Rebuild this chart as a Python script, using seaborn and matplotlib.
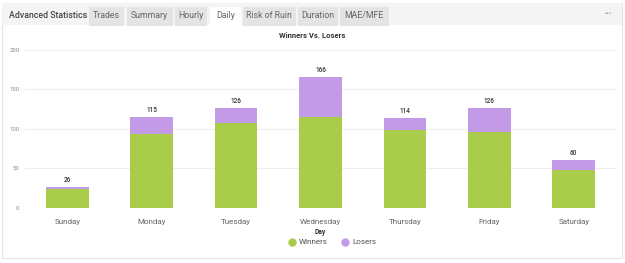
import numpy as np
import pandas as pd
import matplotlib
matplotlib.use("Agg")
import matplotlib.pyplot as plt
from matplotlib.patches import Rectangle
from matplotlib.lines import Line2D
import seaborn as sns

days = ["Sunday", "Monday", "Tuesday", "Wednesday", "Thursday", "Friday", "Saturday"]
winners = [23, 93, 107, 115, 99, 96, 48]
losers = [3, 22, 19, 51, 15, 30, 12]
tabs = ["Trades", "Summary", "Hourly", "Daily", "Risk of Ruin", "Duration", "MAE/MFE"]

green = "#a9cd4b"
purple = "#c39ae6"

df = pd.DataFrame({"Day": days, "Winners": winners, "Losers": losers})
df["Total"] = df["Winners"] + df["Losers"]

sns.set_theme(style="white")
plt.rcParams["font.family"] = ["Roboto", "DejaVu Sans"]

W, H = 625, 263
fig = plt.figure(figsize=(W / 100, H / 100), dpi=100)
fig.patch.set_facecolor("white")


def px(x, y, w, h):
    # pixel box (top-left origin) -> figure fraction rectangle
    return (x / W, 1 - (y + h) / H), w / W, h / H


# card + tab strip
xy, w, h = px(2, 3, 620, 255)
fig.patches.append(Rectangle(xy, w, h, transform=fig.transFigure, facecolor="white",
                             edgecolor="#e4e4e4", lw=0.8, zorder=-3))
xy, w, h = px(2, 3, 620, 22)
fig.patches.append(Rectangle(xy, w, h, transform=fig.transFigure, facecolor="#f4f4f4",
                             edgecolor="none", zorder=-2))
fig.text(9 / W, 1 - 16 / H, "Advanced Statistics", fontsize=6.3, color="#444444",
         fontweight="medium", va="center", ha="left")

tab_x = [89, 127, 175, 210, 243, 298, 340]
tab_w = [36, 47, 33, 32, 54, 41, 50]
for name, x0, tw in zip(tabs, tab_x, tab_w):
    fc = "white" if name == "Daily" else "#e4e4e4"
    xy, w, h = px(x0, 7, tw - 1.5, 19)
    fig.patches.append(Rectangle(xy, w, h, transform=fig.transFigure, facecolor=fc,
                                 edgecolor="none", zorder=-1))
    fig.text((x0 + (tw - 1.5) / 2) / W, 1 - 16 / H, name, fontsize=6.3, color="#666666",
             va="center", ha="center", zorder=2)
fig.text(608 / W, 1 - 14 / H, "•••", fontsize=5, color="#999999", va="center", ha="center")

fig.text(312 / W, 1 - 35 / H, "Winners Vs. Losers", fontsize=5.5, fontweight="bold",
         color="#333333", ha="center", va="center")

ax = fig.add_axes([25 / W, 1 - 207.5 / H, 591 / W, 157.5 / H])
ax.set_zorder(1)
ax.set_facecolor("none")
sns.barplot(data=df, x="Day", y="Total", color=purple, width=0.505, saturation=1,
            linewidth=0, ax=ax)
sns.barplot(data=df, x="Day", y="Winners", color=green, width=0.505, saturation=1,
            linewidth=0, ax=ax)

for i, t in enumerate(df["Total"]):
    ax.text(i, t + 4, str(t), ha="center", va="bottom", fontsize=4.7, color="#333333",
            fontweight="medium")

ax.set_ylim(0, 200)
ax.set_xlim(-0.5, len(days) - 0.5)
ax.set_yticks([0, 50, 100, 150, 200])
ax.yaxis.grid(True, color="#eeeeee", lw=0.8)
ax.set_axisbelow(True)
for s in ax.spines.values():
    s.set_visible(False)
ax.tick_params(axis="y", labelsize=4.3, labelcolor="#888888", length=0, pad=4)
ax.tick_params(axis="x", labelsize=5.8, labelcolor="#666666", length=0, pad=8.5)
ax.set_ylabel("")
ax.set_xlabel("Day", fontsize=4.8, fontweight="bold", color="#333333", labelpad=2)

handles = [Line2D([], [], marker="o", ls="none", markersize=5, color=green, label="Winners"),
           Line2D([], [], marker="o", ls="none", markersize=5, color=purple, label="Losers")]
fig.legend(handles=handles, loc="center", bbox_to_anchor=(332 / W, 1 - 242 / H), ncol=2,
           frameon=False, fontsize=5.8, labelcolor="#555555", handletextpad=0.4,
           columnspacing=1.6, handlelength=1)

fig.savefig("out.png", dpi=100)
